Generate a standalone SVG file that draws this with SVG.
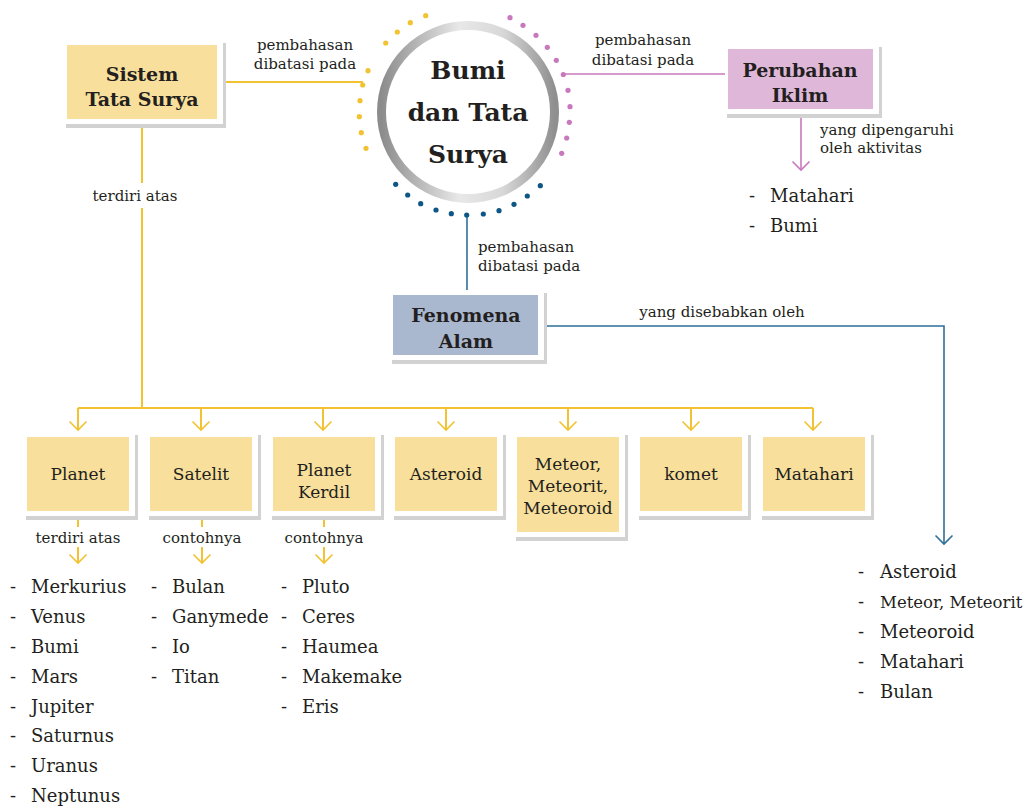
<svg xmlns="http://www.w3.org/2000/svg" width="1031" height="806" viewBox="0 0 1031 806">
<defs>
<style>
text{font-family:"DejaVu Serif","Liberation Serif",serif;fill:#231f20}
.lbl{font-size:15px}
.li{font-size:18px}
.bx{font-size:17px;text-anchor:middle}
.bt{font-size:19px;font-weight:bold;text-anchor:middle}
.ttl{font-size:25px;font-weight:bold;text-anchor:middle}
.c{text-anchor:middle}
.sh{fill:#d2d2d2}
.fr{fill:#ffffff}
.yf{fill:#f8df9b}
.pf{fill:#dfb8d9}
.bf{fill:#a9b7cf}
.yl{stroke:#f2c232;stroke-width:2;fill:none}
.pl{stroke:#c879bd;stroke-width:1.6;fill:none}
.bl{stroke:#2f6f98;stroke-width:1.6;fill:none}
.yd{fill:#f2c232}
.pd{fill:#c879bd}
.bd{fill:#0e5686}
</style>
<marker id="ay" viewBox="-10 -10 20 20" markerWidth="20" markerHeight="20" markerUnits="userSpaceOnUse" orient="auto" refX="0" refY="0"><path d="M-8.5,-8.5 L0,0 L-8.5,8.5" fill="none" stroke="#f2c232" stroke-width="1.6"/></marker>
<marker id="ap" viewBox="-10 -10 20 20" markerWidth="20" markerHeight="20" markerUnits="userSpaceOnUse" orient="auto" refX="0" refY="0"><path d="M-8.5,-8.5 L0,0 L-8.5,8.5" fill="none" stroke="#c879bd" stroke-width="1.6"/></marker>
<marker id="ab" viewBox="-10 -10 20 20" markerWidth="20" markerHeight="20" markerUnits="userSpaceOnUse" orient="auto" refX="0" refY="0"><path d="M-8.5,-8.5 L0,0 L-8.5,8.5" fill="none" stroke="#2f6f98" stroke-width="1.6"/></marker>
<linearGradient id="ring" x1="0" y1="0" x2="1" y2="0">
<stop offset="0" stop-color="#8c8c8c"/>
<stop offset="0.45" stop-color="#e8e8e8"/>
<stop offset="0.7" stop-color="#d8d8d8"/>
<stop offset="1" stop-color="#8f8f8f"/>
</linearGradient>
</defs>
<rect width="1031" height="806" fill="#ffffff"/>

<g id="connectors">
<line class="yl" x1="217" y1="82" x2="363" y2="82"/>
<line class="yl" x1="142" y1="128" x2="142" y2="183"/>
<line class="yl" x1="142" y1="208" x2="142" y2="408"/>
<line class="yl" x1="78" y1="408" x2="813" y2="408"/>
<line class="yl" x1="78" y1="408" x2="78" y2="430" marker-end="url(#ay)"/>
<line class="yl" x1="201" y1="408" x2="201" y2="430" marker-end="url(#ay)"/>
<line class="yl" x1="323" y1="408" x2="323" y2="430" marker-end="url(#ay)"/>
<line class="yl" x1="446" y1="408" x2="446" y2="430" marker-end="url(#ay)"/>
<line class="yl" x1="568" y1="408" x2="568" y2="430" marker-end="url(#ay)"/>
<line class="yl" x1="691" y1="408" x2="691" y2="430" marker-end="url(#ay)"/>
<line class="yl" x1="813" y1="408" x2="813" y2="430" marker-end="url(#ay)"/>
<line class="yl" x1="78" y1="518" x2="78" y2="527"/>
<line class="yl" x1="78" y1="547" x2="78" y2="563" marker-end="url(#ay)"/>
<line class="yl" x1="202" y1="518" x2="202" y2="527"/>
<line class="yl" x1="202" y1="547" x2="202" y2="563" marker-end="url(#ay)"/>
<line class="yl" x1="324" y1="518" x2="324" y2="527"/>
<line class="yl" x1="324" y1="547" x2="324" y2="563" marker-end="url(#ay)"/>
<line class="pl" x1="563" y1="74" x2="727" y2="74"/>
<line class="pl" x1="801" y1="118" x2="801" y2="170" marker-end="url(#ap)"/>
<line class="bl" x1="467" y1="215" x2="467" y2="290"/>
<polyline class="bl" points="545,326 944,326 944,544" marker-end="url(#ab)"/>
<text class="lbl c" x="305" y="50">pembahasan</text>
<text class="lbl c" x="305" y="69">dibatasi pada</text>
<text class="lbl c" x="643" y="45">pembahasan</text>
<text class="lbl c" x="643" y="65">dibatasi pada</text>
<text class="lbl" x="478" y="252">pembahasan</text>
<text class="lbl" x="478" y="271">dibatasi pada</text>
<text class="lbl c" x="135" y="201">terdiri atas</text>
<text class="lbl c" x="722" y="317">yang disebabkan oleh</text>
<text class="lbl" x="820" y="135">yang dipengaruhi</text>
<text class="lbl" x="820" y="153">oleh aktivitas</text>
<text class="lbl c" x="78" y="543">terdiri atas</text>
<text class="lbl c" x="202" y="543">contohnya</text>
<text class="lbl c" x="324" y="543">contohnya</text>
</g>

<g id="bumi">
<circle cx="468" cy="112" r="86.5" fill="#ffffff" stroke="url(#ring)" stroke-width="9"/>
<g class="yd">
<circle cx="425.7" cy="15.7" r="2.6"/><circle cx="410.3" cy="22.7" r="2.6"/><circle cx="397.3" cy="32" r="2.6"/><circle cx="385.7" cy="43" r="2.6"/><circle cx="368" cy="70.7" r="2.6"/><circle cx="362.7" cy="85" r="2.6"/><circle cx="360" cy="100.7" r="2.6"/><circle cx="359.3" cy="116.7" r="2.6"/><circle cx="361.3" cy="132.7" r="2.6"/><circle cx="366" cy="148.3" r="2.6"/>
</g>
<g class="pd">
<circle cx="510" cy="17.7" r="2.6"/><circle cx="523" cy="25.3" r="2.6"/><circle cx="536" cy="35.3" r="2.6"/><circle cx="547.3" cy="47.3" r="2.6"/><circle cx="556.3" cy="60.3" r="2.6"/><circle cx="563.3" cy="74.5" r="2.6"/><circle cx="568" cy="90.3" r="2.6"/><circle cx="570" cy="106.7" r="2.6"/><circle cx="569.3" cy="122.3" r="2.6"/><circle cx="566.7" cy="138" r="2.6"/><circle cx="561.7" cy="153.3" r="2.6"/>
</g>
<g class="bd">
<circle cx="395.7" cy="184.3" r="2.6"/><circle cx="407.7" cy="195" r="2.6"/><circle cx="420.7" cy="203.7" r="2.6"/><circle cx="436" cy="210" r="2.6"/><circle cx="451.3" cy="213.7" r="2.6"/><circle cx="466.7" cy="215" r="2.6"/><circle cx="483.3" cy="214" r="2.6"/><circle cx="499" cy="210.7" r="2.6"/><circle cx="514" cy="204.3" r="2.6"/><circle cx="527.3" cy="196" r="2.6"/><circle cx="540.3" cy="185.7" r="2.6"/>
</g>
<text class="ttl" x="468" y="79">Bumi</text>
<text class="ttl" x="468" y="121">dan Tata</text>
<text class="ttl" x="468" y="163">Surya</text>
</g>

<g id="sistem">
<rect class="sh" x="66" y="43" width="160" height="85"/>
<rect class="fr" x="64" y="42" width="159" height="82"/>
<rect class="yf" x="67" y="45" width="150" height="74"/>
<text class="bt" x="142" y="81">Sistem</text>
<text class="bt" x="142" y="106">Tata Surya</text>
</g>

<g id="perubahan">
<rect class="sh" x="727" y="47" width="155" height="71"/>
<rect class="fr" x="725" y="46" width="154" height="68"/>
<rect class="pf" x="728" y="49" width="145" height="60"/>
<text class="bt" x="800" y="77">Perubahan</text>
<text class="bt" x="800" y="102">Iklim</text>
</g>

<g id="fenomena">
<rect class="sh" x="392" y="293" width="155" height="71"/>
<rect class="fr" x="390" y="292" width="154" height="68"/>
<rect class="bf" x="393" y="295" width="145" height="60"/>
<text class="bt" x="466" y="322">Fenomena</text>
<text class="bt" x="466" y="348">Alam</text>
</g>

<g id="planet">
<rect class="sh" x="26" y="435" width="112" height="85"/>
<rect class="fr" x="24" y="433" width="111" height="83"/>
<rect class="yf" x="27" y="437" width="102" height="74"/>
<text class="bx" x="78" y="480">Planet</text>
</g>
<g id="satelit">
<rect class="sh" x="149" y="435" width="112" height="85"/>
<rect class="fr" x="147" y="433" width="111" height="83"/>
<rect class="yf" x="150" y="437" width="102" height="74"/>
<text class="bx" x="201" y="480">Satelit</text>
</g>
<g id="planet-kerdil">
<rect class="sh" x="272" y="435" width="112" height="85"/>
<rect class="fr" x="270" y="433" width="111" height="83"/>
<rect class="yf" x="273" y="437" width="102" height="74"/>
<text class="bx" x="324" y="476">Planet</text>
<text class="bx" x="324" y="498">Kerdil</text>
</g>
<g id="asteroid">
<rect class="sh" x="394" y="435" width="112" height="85"/>
<rect class="fr" x="392" y="433" width="111" height="83"/>
<rect class="yf" x="395" y="437" width="102" height="74"/>
<text class="bx" x="446" y="480">Asteroid</text>
</g>
<g id="meteor">
<rect class="sh" x="516" y="435" width="112" height="106"/>
<rect class="fr" x="514" y="433" width="111" height="104"/>
<rect class="yf" x="517" y="437" width="102" height="95"/>
<text class="bx" x="568" y="470">Meteor,</text>
<text class="bx" x="568" y="492">Meteorit,</text>
<text class="bx" x="568" y="514">Meteoroid</text>
</g>
<g id="komet">
<rect class="sh" x="639" y="435" width="112" height="85"/>
<rect class="fr" x="637" y="433" width="111" height="83"/>
<rect class="yf" x="640" y="437" width="102" height="74"/>
<text class="bx" x="691" y="480">komet</text>
</g>
<g id="matahari">
<rect class="sh" x="762" y="435" width="112" height="85"/>
<rect class="fr" x="760" y="433" width="111" height="83"/>
<rect class="yf" x="763" y="437" width="102" height="74"/>
<text class="bx" x="814" y="480">Matahari</text>
</g>

<g id="list-planet">
<text class="li" x="10" y="593">-</text><text class="li" x="31" y="593">Merkurius</text>
<text class="li" x="10" y="623">-</text><text class="li" x="31" y="623">Venus</text>
<text class="li" x="10" y="653">-</text><text class="li" x="31" y="653">Bumi</text>
<text class="li" x="10" y="683">-</text><text class="li" x="31" y="683">Mars</text>
<text class="li" x="10" y="713">-</text><text class="li" x="31" y="713">Jupiter</text>
<text class="li" x="10" y="742">-</text><text class="li" x="31" y="742">Saturnus</text>
<text class="li" x="10" y="772">-</text><text class="li" x="31" y="772">Uranus</text>
<text class="li" x="10" y="802">-</text><text class="li" x="31" y="802">Neptunus</text>
</g>
<g id="list-satelit">
<text class="li" x="151" y="593">-</text><text class="li" x="172" y="593">Bulan</text>
<text class="li" x="151" y="623">-</text><text class="li" x="172" y="623">Ganymede</text>
<text class="li" x="151" y="653">-</text><text class="li" x="172" y="653">Io</text>
<text class="li" x="151" y="683">-</text><text class="li" x="172" y="683">Titan</text>
</g>
<g id="list-kerdil">
<text class="li" x="281" y="593">-</text><text class="li" x="302" y="593">Pluto</text>
<text class="li" x="281" y="623">-</text><text class="li" x="302" y="623">Ceres</text>
<text class="li" x="281" y="653">-</text><text class="li" x="302" y="653">Haumea</text>
<text class="li" x="281" y="683">-</text><text class="li" x="302" y="683">Makemake</text>
<text class="li" x="281" y="713">-</text><text class="li" x="302" y="713">Eris</text>
</g>
<g id="list-iklim">
<text class="li" x="749" y="202">-</text><text class="li" x="770" y="202">Matahari</text>
<text class="li" x="749" y="232">-</text><text class="li" x="770" y="232">Bumi</text>
</g>
<g id="list-fenomena">
<text class="li" x="858" y="578">-</text><text class="li" x="880" y="578">Asteroid</text>
<text class="li" x="858" y="608">-</text><text x="880" y="608" style="font-size:16.5px">Meteor, Meteorit</text>
<text class="li" x="858" y="638">-</text><text class="li" x="880" y="638">Meteoroid</text>
<text class="li" x="858" y="668">-</text><text class="li" x="880" y="668">Matahari</text>
<text class="li" x="858" y="698">-</text><text class="li" x="880" y="698">Bulan</text>
</g>
</svg>
